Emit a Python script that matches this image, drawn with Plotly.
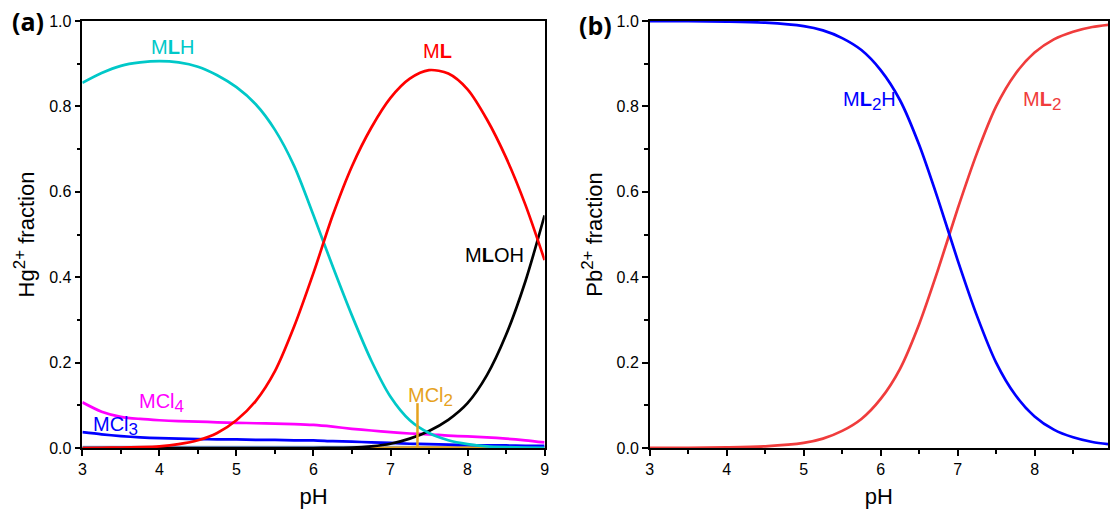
import plotly.graph_objects as go

# ---------------- data: panel (a) Hg2+ ----------------
ph_a = [3.0, 3.25, 3.5, 3.75, 4.0, 4.25, 4.5, 4.75, 5.0, 5.25, 5.5, 5.75, 6.0,
        6.25, 6.5, 6.75, 7.0, 7.25, 7.5, 7.75, 8.0, 8.25, 8.5, 8.75, 9.0]
mlh = [0.855, 0.878, 0.895, 0.903, 0.906, 0.903, 0.893, 0.873, 0.845, 0.805, 0.745,
       0.660, 0.545, 0.425, 0.310, 0.205, 0.120, 0.065, 0.035, 0.018, 0.009, 0.004,
       0.002, 0.001, 0.0005]
ml = [0.000, 0.0005, 0.001, 0.002, 0.004, 0.009, 0.018, 0.035, 0.065, 0.110, 0.180,
      0.285, 0.410, 0.545, 0.660, 0.750, 0.820, 0.865, 0.885, 0.877, 0.840, 0.770,
      0.680, 0.570, 0.440]
mloh = [0, 0, 0, 0, 0, 0, 0, 0, 0, 0, 0, 0, 0.0, 0.0005, 0.001, 0.004, 0.010, 0.022,
        0.040, 0.066, 0.105, 0.170, 0.265, 0.390, 0.545]
mcl4 = [0.107, 0.085, 0.073, 0.068, 0.065, 0.063, 0.062, 0.060, 0.059, 0.058, 0.057,
        0.056, 0.054, 0.050, 0.045, 0.041, 0.037, 0.034, 0.032, 0.029, 0.027, 0.025,
        0.022, 0.018, 0.013]
mcl3 = [0.037, 0.032, 0.028, 0.025, 0.023, 0.022, 0.021, 0.020, 0.020, 0.019, 0.019,
        0.018, 0.018, 0.016, 0.015, 0.013, 0.012, 0.010, 0.009, 0.008, 0.007, 0.006,
        0.006, 0.005, 0.005]
mcl = [0.002, 0.002, 0.002, 0.002, 0.002, 0.002, 0.002, 0.002, 0.002, 0.002, 0.002,
       0.002, 0.002, 0.002, 0.002, 0.002, 0.002, 0.002, 0.002, 0.002, 0.002, 0.002,
       0.002, 0.002, 0.002]
ph_mcl2 = [6.6, 7.0, 7.5, 8.0, 8.5, 9.0]
mcl2 = [0.0, 0.0005, 0.0008, 0.0008, 0.0006, 0.0005]

# ---------------- data: panel (b) Pb2+ ----------------
ph_b = [3.0, 3.5, 4.0, 4.5, 5.0, 5.25, 5.5, 5.75, 6.0, 6.25, 6.5, 6.75, 7.0, 7.25,
        7.5, 7.75, 8.0, 8.25, 8.5, 8.75, 9.0]
ml2 = [0.0001, 0.0004, 0.0013, 0.004, 0.012, 0.022, 0.040, 0.068, 0.115, 0.185,
       0.290, 0.420, 0.560, 0.690, 0.800, 0.876, 0.926, 0.957, 0.975, 0.986, 0.992]
ml2h = [1.0 - v for v in ml2]

SUB = "<sub><span style='font-size:17px'>{}</span></sub>"
SUP = "<sup><span style='font-size:17px'>{}</span></sup>"

# label positions (pH, fraction)
labels_a = [
    ("M<b>L</b>H", 4.17, 0.94, "#00C8C8"),
    ("M<b>L</b>", 7.61, 0.93, "#FF0000"),
    ("M<b>L</b>OH", 8.35, 0.452, "#000000"),
    ("MCl" + SUB.format("4"), 4.03, 0.106, "#FF00FF"),
    ("MCl" + SUB.format("3"), 3.43, 0.052, "#0000FF"),
    ("MCl" + SUB.format("2"), 7.52, 0.120, "#E6A21E"),
]
labels_b = [
    ("M<b>L</b>" + SUB.format("2") + "H", 5.85, 0.812, "#0000FF"),
    ("M<b>L</b>" + SUB.format("2"), 8.1, 0.812, "#F03C3C"),
]

fig = go.Figure()
lw = 2.7
spl = dict(shape="spline", smoothing=0.8)
fig.add_trace(go.Scatter(x=ph_a, y=mcl, mode="lines", line=dict(color="#7FA8E0", width=lw, **spl), xaxis="x", yaxis="y"))
fig.add_trace(go.Scatter(x=ph_mcl2, y=mcl2, mode="lines", line=dict(color="#E6A21E", width=lw, **spl), xaxis="x", yaxis="y"))
fig.add_trace(go.Scatter(x=ph_a, y=mcl3, mode="lines", line=dict(color="#0000FF", width=lw, **spl), xaxis="x", yaxis="y"))
fig.add_trace(go.Scatter(x=ph_a, y=mcl4, mode="lines", line=dict(color="#FF00FF", width=lw, **spl), xaxis="x", yaxis="y"))
fig.add_trace(go.Scatter(x=ph_a, y=mloh, mode="lines", line=dict(color="#000000", width=lw, **spl), xaxis="x", yaxis="y"))
fig.add_trace(go.Scatter(x=ph_a, y=mlh, mode="lines", line=dict(color="#00C8C8", width=lw, **spl), xaxis="x", yaxis="y"))
fig.add_trace(go.Scatter(x=ph_a, y=ml, mode="lines", line=dict(color="#FF0000", width=lw, **spl), xaxis="x", yaxis="y"))

fig.add_trace(go.Scatter(x=ph_b, y=ml2, mode="lines", line=dict(color="#F03C3C", width=lw, **spl), xaxis="x2", yaxis="y2"))
fig.add_trace(go.Scatter(x=ph_b, y=ml2h, mode="lines", line=dict(color="#0000FF", width=lw, **spl), xaxis="x2", yaxis="y2"))

# MCl2 pointer line
fig.add_shape(type="line", xref="x", yref="y", x0=7.35, x1=7.35, y0=0.0, y1=0.105,
              line=dict(color="#E6A21E", width=2.5))

font_lbl = dict(family="Liberation Sans, Arial", size=20)
for t, x, y, c in labels_a:
    fig.add_annotation(text=t, x=x, y=y, xref="x", yref="y", showarrow=False,
                       font=dict(font_lbl, color=c))
for t, x, y, c in labels_b:
    fig.add_annotation(text=t, x=x, y=y, xref="x2", yref="y2", showarrow=False,
                       font=dict(font_lbl, color=c))

W, H = 1113, 517
MT, MB = 21, 69
PH_ = H - MT - MB

fig.add_annotation(text="<b>(a)</b>", x=24 / W, y=1 - (21 - MT) / PH_, xref="paper", yref="paper",
                   xanchor="center", yanchor="middle", showarrow=False,
                   font=dict(family="Open Sans", size=25, color="black"))
fig.add_annotation(text="<b>(b)</b>", x=596 / W, y=1 - (25 - MT) / PH_, xref="paper", yref="paper",
                   xanchor="center", yanchor="middle", showarrow=False,
                   font=dict(family="Open Sans", size=25, color="black"))

tickfont = dict(family="Liberation Sans, Arial", size=16, color="black")
titlefont = dict(family="Liberation Sans, Arial", size=22, color="black")

common_x = dict(showgrid=False, zeroline=False, showline=True, linecolor="black", linewidth=1.5,
                mirror=True, ticks="outside", ticklen=6, tickwidth=1.5, tickcolor="black",
                dtick=1, tickfont=tickfont,
                minor=dict(dtick=0.5, ticks="outside", ticklen=4, tickwidth=1.5, tickcolor="black"),
                title=dict(text="pH", font=titlefont, standoff=12))
common_y = dict(showgrid=False, zeroline=False, showline=True, linecolor="black", linewidth=1.5,
                mirror=True, ticks="outside", ticklen=6, tickwidth=1.5, tickcolor="black",
                range=[0, 1.0], dtick=0.2, tickformat=".1f", tickfont=tickfont,
                minor=dict(dtick=0.1, ticks="outside", ticklen=4, tickwidth=1.5, tickcolor="black"))

fig.update_layout(
    width=W, height=H, showlegend=False,
    paper_bgcolor="white", plot_bgcolor="white",
    margin=dict(l=0, r=0, t=MT, b=MB),
    xaxis=dict(common_x, domain=[79 / W, 545 / W], range=[3, 9], anchor="y"),
    yaxis=dict(common_y, domain=[0, 1], anchor="x",
               title=dict(text="Hg" + SUP.format("2+") + " fraction", font=titlefont, standoff=8)),
    xaxis2=dict(common_x, domain=[651 / W, 1.0], range=[3, 3 + 462 / 77.6], anchor="y2"),
    yaxis2=dict(common_y, domain=[0, 1], anchor="x2",
                title=dict(text="Pb" + SUP.format("2+") + " fraction", font=titlefont, standoff=8)),
)

fig.write_html("out.html")
